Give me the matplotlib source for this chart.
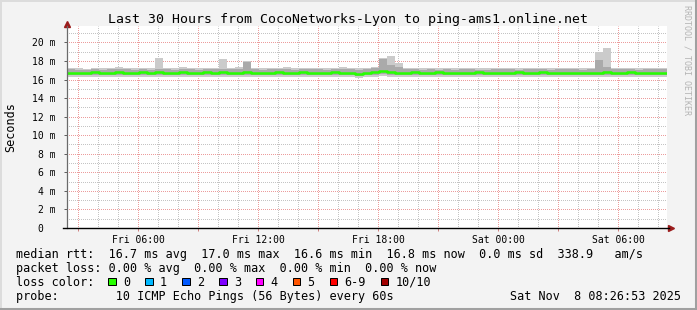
import numpy as np
import matplotlib
matplotlib.use("Agg")
from matplotlib import pyplot as plt
from matplotlib.lines import Line2D
from matplotlib.patches import Rectangle

# 30 hours ending Sat 08:26:53, hours counted from Fri 00:00, 24 minute bins
start_hour = 2 + 26 / 60 + 53 / 3600
bin_hours = 0.4

median_ms = [
    16.70, 16.74, 16.72, 16.76, 16.74, 16.70, 16.76, 16.72, 16.74, 16.78, 16.74, 16.76, 16.72, 16.74, 16.77,
    16.74, 16.72, 16.76, 16.74, 16.78, 16.74, 16.72, 16.76, 16.74, 16.75, 16.73, 16.77, 16.74, 16.72, 16.76,
    16.74, 16.75, 16.73, 16.76, 16.74, 16.70, 16.62, 16.74, 16.80, 16.90, 16.84, 16.74, 16.74, 16.76, 16.72,
    16.74, 16.76, 16.74, 16.73, 16.75, 16.74, 16.76, 16.72, 16.74, 16.75, 16.74, 16.77, 16.73, 16.74, 16.76,
    16.74, 16.72, 16.74, 16.75, 16.73, 16.66, 16.70, 16.76, 16.74, 16.72, 16.76, 16.68, 16.74, 16.75, 16.74,
]
smoke_lo = [
    16.28, 16.32, 16.25, 16.30, 16.28, 16.32, 16.26, 16.30, 16.28, 16.25, 16.30, 16.28, 16.32, 16.30, 16.26,
    16.30, 16.28, 16.25, 16.32, 16.28, 16.30, 16.26, 16.28, 16.32, 16.30, 16.28, 16.25, 16.30, 16.28, 16.32,
    16.28, 16.30, 16.26, 16.30, 16.28, 16.25, 16.20, 16.30, 16.32, 16.35, 16.30, 16.28, 16.30, 16.26, 16.30,
    16.28, 16.32, 16.30, 16.26, 16.30, 16.28, 16.30, 16.25, 16.30, 16.28, 16.32, 16.30, 16.28, 16.30, 16.26,
    16.30, 16.28, 16.32, 16.30, 16.26, 16.28, 16.30, 16.32, 16.28, 16.30, 16.26, 16.28, 16.30, 16.28, 16.30,
]
smoke_lo_inner = [
    16.48, 16.52, 16.45, 16.50, 16.48, 16.50, 16.46, 16.50, 16.52, 16.46, 16.50, 16.48, 16.52, 16.50, 16.46,
    16.50, 16.48, 16.46, 16.52, 16.48, 16.50, 16.46, 16.50, 16.52, 16.50, 16.48, 16.46, 16.50, 16.48, 16.52,
    16.48, 16.50, 16.46, 16.50, 16.48, 16.46, 16.42, 16.50, 16.52, 16.55, 16.50, 16.48, 16.50, 16.46, 16.50,
    16.48, 16.52, 16.50, 16.46, 16.50, 16.48, 16.50, 16.46, 16.50, 16.48, 16.52, 16.50, 16.48, 16.50, 16.46,
    16.50, 16.48, 16.52, 16.50, 16.46, 16.46, 16.48, 16.52, 16.48, 16.50, 16.46, 16.48, 16.50, 16.48, 16.50,
]
smoke_hi_inner = [
    17.08, 17.05, 17.02, 17.08, 17.05, 17.10, 17.12, 17.08, 17.05, 17.08, 17.05, 17.15, 17.08, 17.05, 17.15,
    17.08, 17.05, 17.10, 17.08, 17.12, 17.08, 17.10, 17.90, 17.08, 17.05, 17.10, 17.08, 17.10, 17.05, 17.08,
    17.10, 17.08, 17.05, 17.08, 17.12, 17.08, 17.05, 17.10, 17.20, 18.20, 17.60, 17.30, 17.10, 17.08, 17.05,
    17.08, 17.05, 17.10, 17.05, 17.08, 17.08, 17.05, 17.05, 17.10, 17.08, 17.08, 17.05, 17.08, 17.10, 17.08,
    17.05, 17.08, 17.08, 17.10, 17.05, 17.08, 18.10, 17.40, 17.10, 17.08, 17.08, 17.05, 17.10, 17.08, 17.08,
]
smoke_hi = [
    17.25, 17.22, 17.18, 17.25, 17.20, 17.28, 17.30, 17.22, 17.20, 17.25, 17.22, 18.30, 17.28, 17.22, 17.40,
    17.25, 17.20, 17.28, 17.22, 18.20, 17.25, 17.30, 18.00, 17.22, 17.20, 17.28, 17.22, 17.35, 17.20, 17.22,
    17.28, 17.22, 17.20, 17.25, 17.40, 17.22, 17.20, 17.28, 17.40, 18.30, 18.50, 17.80, 17.28, 17.22, 17.20,
    17.25, 17.22, 17.28, 17.20, 17.22, 17.25, 17.22, 17.20, 17.28, 17.22, 17.25, 17.20, 17.22, 17.28, 17.22,
    17.20, 17.25, 17.22, 17.28, 17.20, 17.22, 19.00, 19.40, 17.28, 17.22, 17.25, 17.20, 17.28, 17.22, 17.25,
]

x_tick_hours = [6, 12, 18, 24, 30]
x_tick_labels = ["Fri 06:00", "Fri 12:00", "Fri 18:00", "Sat 00:00", "Sat 06:00"]
y_tick_values = [0, 2, 4, 6, 8, 10, 12, 14, 16, 18, 20]
y_tick_labels = ["0  ", "2 m", "4 m", "6 m", "8 m", "10 m", "12 m", "14 m", "16 m", "18 m", "20 m"]

title = "Last 30 Hours from CocoNetworks-Lyon to ping-ams1.online.net"
rtt_line = "median rtt:  16.7 ms avg  17.0 ms max  16.6 ms min  16.8 ms now  0.0 ms sd  338.9   am/s"
loss_line = "packet loss: 0.00 % avg  0.00 % max  0.00 % min  0.00 % now"
probe_line = "probe:        10 ICMP Echo Pings (56 Bytes) every 60s"
stamp = "Sat Nov  8 08:26:53 2025"
loss_labels = ["0", "1", "2", "3", "4", "5", "6-9", "10/10"]
loss_colors = ["#26ff00", "#00b8ff", "#0059ff", "#7e00ff", "#ff00ff", "#ff5500", "#ff0000", "#a10000"]

W, H = 697, 310
MONO = "DejaVu Sans Mono"


def fx(x):
    return x / W


def fy(y):
    return 1 - y / H


fig = plt.figure(figsize=(W / 100, H / 100), dpi=100, facecolor="#f3f3f3")

# frame around the whole picture
fig.add_artist(Line2D([fx(1), fx(1)], [fy(1), fy(H - 1)], color="#dcdcdc", lw=1.44))
fig.add_artist(Line2D([fx(1), fx(W - 1)], [fy(1), fy(1)], color="#dcdcdc", lw=1.44))
fig.add_artist(Line2D([fx(W - 1.5), fx(W - 1.5)], [fy(1), fy(H)], color="#a0a0a0", lw=2.2))
fig.add_artist(Line2D([fx(1), fx(W)], [fy(H - 1.5), fy(H - 1.5)], color="#a0a0a0", lw=2.2))

# plot area: 600 x 202 px, 9.28 px per ms
ax = fig.add_axes([fx(67), fy(228), 600 / W, 202 / H])
ax.set_facecolor("white")
ax.set_xlim(start_hour, start_hour + 30)
ax.set_ylim(0, 202 / 9.28)

n = len(median_ms)
edges = start_hour + bin_hours * np.arange(n + 1)


def ext(v):
    return list(v) + [v[-1]]


ax.fill_between(edges, ext(smoke_lo), ext(smoke_hi), step="post", color="#cbcbcb", lw=0, zorder=2)
ax.fill_between(edges, ext(smoke_lo_inner), ext(smoke_hi_inner), step="post", color="#aaaaaa", lw=0, zorder=3)
ax.step(edges, ext(median_ms), where="post", color=loss_colors[0], lw=1.8, zorder=4)

# grid
ax.set_xticks(np.arange(3, 33, 3))
ax.set_xticks(np.arange(3, 33, 1), minor=True)
ax.set_xticklabels([x_tick_labels[x_tick_hours.index(h)] if h in x_tick_hours else ""
                    for h in range(3, 33, 3)])
ax.set_yticks(y_tick_values)
ax.set_yticklabels(y_tick_labels)
ax.set_yticks(np.arange(1, 22, 1), minor=True)
ax.set_axisbelow(True)
ax.grid(which="minor", color="#c4c4c4", linestyle=(0.5, (1, 1)), lw=0.72)
ax.grid(which="major", color="#ec9c9c", linestyle=(0.5, (1, 1)), lw=0.72)
for lab in ax.get_xticklabels() + ax.get_yticklabels():
    lab.set_family(MONO)
    lab.set_fontsize(7)
ax.tick_params(axis="x", which="major", length=2, width=0.72, color="#d08080", pad=3)
ax.tick_params(axis="y", which="major", length=2, width=0.72, color="#606060", pad=6)
ax.tick_params(which="minor", length=0)
for s in ax.spines.values():
    s.set_visible(False)

# axes with arrows
ax.plot([0, 0], [0, 1], transform=ax.transAxes, color="#6a6a6a", lw=0.9, clip_on=False, zorder=5)
ax.plot([-4 / 600, 602 / 600], [0, 0], transform=ax.transAxes, color="black", lw=1, clip_on=False, zorder=5)
ax.plot([0], [(228 - 23.5) / 202], marker="^", ms=4, color="#9b1c1c", transform=ax.transAxes, clip_on=False)
ax.plot([(670.5 - 67) / 600], [0], marker=">", ms=4, color="#9b1c1c", transform=ax.transAxes, clip_on=False)

fig.text(0.5, fy(19), title, family=MONO, fontsize=9.5, ha="center", va="center")
fig.text(fx(11), fy(127), "Seconds", family=MONO, fontsize=8.5, rotation=90, ha="center", va="center")
fig.text(fx(687), fy(60), "RRDTOOL / TOBI OETIKER", family=MONO, fontsize=6, rotation=270,
         ha="center", va="center", color="#b4b4b4")

fig.text(fx(16), fy(257.7), rtt_line, family=MONO, fontsize=8.5, va="baseline")
fig.text(fx(16), fy(271.7), loss_line, family=MONO, fontsize=8.5, va="baseline")
fig.text(fx(16), fy(285.7), "loss color:", family=MONO, fontsize=8.5, va="baseline")
fig.text(fx(16), fy(299.7), probe_line, family=MONO, fontsize=8.5, va="baseline")
fig.text(fx(681), fy(299.7), stamp, family=MONO, fontsize=8.5, va="baseline", ha="right")

bx = 108.3
for lab, col in zip(loss_labels, loss_colors):
    fig.add_artist(Rectangle((fx(bx), fy(285.3)), 7.5 / W, 7.5 / H, transform=fig.transFigure,
                             facecolor=col, edgecolor="black", lw=0.72))
    fig.text(fx(bx + 14.7), fy(285.7), lab, family=MONO, fontsize=8.5, va="baseline")
    bx += len(lab) * 7.12 + 29.8

fig.savefig("out.png", dpi=100, facecolor=fig.get_facecolor())
